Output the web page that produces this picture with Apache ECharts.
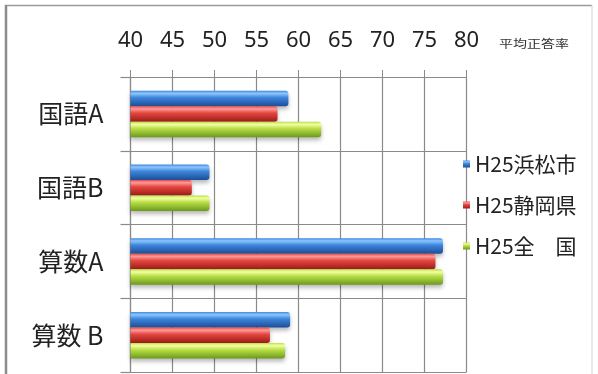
<!DOCTYPE html>
<html>
<head>
<meta charset="utf-8">
<script src="https://cdn.jsdelivr.net/npm/echarts@6/dist/echarts.min.js"></script>
<style>
  html, body { margin: 0; padding: 0; background: #fff; }
  #chart { width: 598px; height: 374px; }
</style>
</head>
<body>
<div id="chart"></div>
<script>
// Subjects (top to bottom) and the three comparison groups
const subjects = ['国語A', '国語B', '算数A', '算数 B'];
const groupNames = ['H25浜松市', 'H25静岡県', 'H25全　国'];

// Average correct-answer rate (%) per subject
const hamamatsu = [58.8, 49.4, 77.2, 59.0];
const shizuoka  = [57.5, 47.3, 76.3, 56.6];
const national  = [62.7, 49.4, 77.2, 58.4];

// Rate axis range
const rateMin = 40;
const rateMax = 80;
const rateStep = 5;

const chart = echarts.init(document.getElementById('chart'), null, { renderer: 'canvas' });

function grad(light, mid, dark) {
  return new echarts.graphic.LinearGradient(0, 0, 0, 1, [
    { offset: 0, color: mid },
    { offset: 0.18, color: light },
    { offset: 0.45, color: mid },
    { offset: 1, color: dark }
  ]);
}

const palettes = [
  grad('#8cc6ff', '#3d86dc', '#1d4e98'),
  grad('#ff9a9a', '#e4463f', '#9c1c18'),
  grad('#f2ffa0', '#b9de46', '#6c9a1e')
];
const legendColors = ['#3a7fd6', '#d83a36', '#9cc83a'];

function barSeries(name, values, idx) {
  return {
    name: name,
    type: 'bar',
    data: values,
    barWidth: 15.5,
    barGap: '0%',
    color: legendColors[idx],
    itemStyle: {
      color: palettes[idx],
      borderRadius: [0, 3, 3, 0],
      shadowColor: 'rgba(0,0,0,0.28)',
      shadowBlur: 4,
      shadowOffsetY: 3
    },
    emphasis: { disabled: true }
  };
}

const option = {
  backgroundColor: '#fff',
  animation: false,
  grid: { left: 130.5, right: 131.5, top: 77, bottom: 2, containLabel: false },
  xAxis: {
    type: 'value',
    position: 'top',
    min: rateMin,
    max: rateMax,
    interval: rateStep,
    axisLine: { show: true, lineStyle: { color: '#8a8a8a', width: 1.2 } },
    axisTick: { show: true, inside: false, length: 7, lineStyle: { color: '#8a8a8a' } },
    splitLine: { show: true, lineStyle: { color: '#8a8a8a', width: 1.2 } },
    axisLabel: {
      margin: 25,
      color: '#222',
      fontSize: 22,
      fontFamily: 'Noto Sans'
    }
  },
  yAxis: {
    type: 'category',
    inverse: true,
    data: subjects,
    axisLine: { show: true, lineStyle: { color: '#8a8a8a', width: 1.2 } },
    axisTick: { show: true, length: 10, alignWithLabel: false, lineStyle: { color: '#8a8a8a', width: 1.2 } },
    splitLine: { show: true, lineStyle: { color: '#8a8a8a', width: 1.2 } },
    axisLabel: {
      margin: 27,
      color: '#222',
      fontSize: 25,
      fontFamily: 'Noto Sans CJK JP'
    }
  },
  legend: {
    orient: 'vertical',
    left: 458,
    top: 134,
    data: groupNames,
    icon: 'rect',
    itemWidth: 7,
    itemHeight: 7,
    itemGap: -9,
    textStyle: {
      color: '#222',
      fontSize: 21,
      lineHeight: 22,
      padding: [28, 0, 0, 0],
      fontFamily: 'Noto Sans CJK JP'
    }
  },
  graphic: [
    { type: 'line', silent: true, shape: { x1: 5, y1: 5.5, x2: 592, y2: 5.5 }, style: { stroke: '#9a9a9a', lineWidth: 1.5 } },
    { type: 'line', silent: true, shape: { x1: 6, y1: 5, x2: 6, y2: 374 }, style: { stroke: '#8c8c8c', lineWidth: 2.5 } },
    { type: 'line', silent: true, shape: { x1: 592, y1: 5, x2: 592, y2: 374 }, style: { stroke: '#d4d4d4', lineWidth: 1 } },
    {
      type: 'text', silent: true, left: 499, top: 38, scaleY: 0.8,
      style: { text: '平均正答率', fill: '#333', font: '14px "Noto Sans CJK JP"' }
    }
  ],
  series: [
    barSeries(groupNames[0], hamamatsu, 0),
    barSeries(groupNames[1], shizuoka, 1),
    barSeries(groupNames[2], national, 2)
  ]
};

chart.setOption(option);
</script>
</body>
</html>
